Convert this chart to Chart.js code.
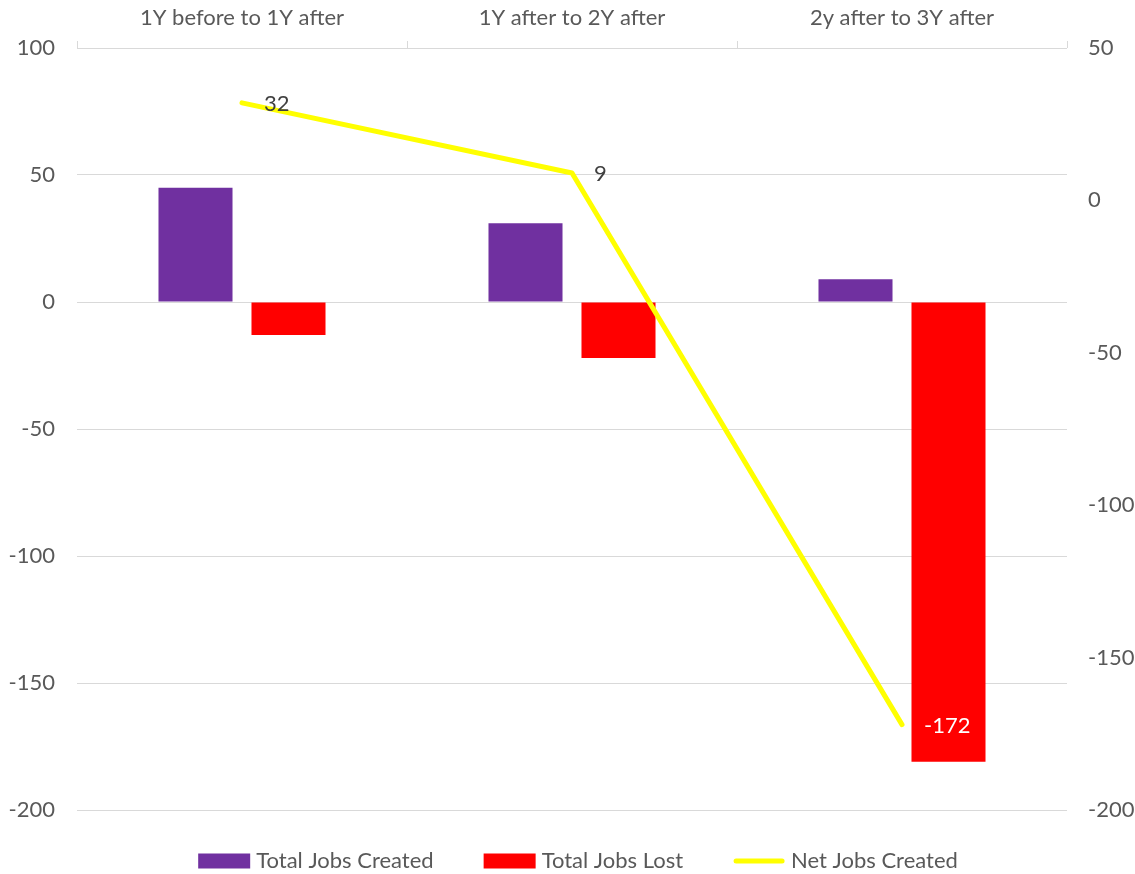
<!DOCTYPE html>
<html><head><meta charset="utf-8">
<script src="https://cdn.jsdelivr.net/npm/chart.js@4.4.1/dist/chart.umd.min.js"></script>
<style>html,body{margin:0;padding:0;background:#fff;}#wrap{width:1135px;height:874px;}</style>
</head><body><div id="wrap"><canvas id="c" width="1135" height="874"></canvas></div>
<script>
const categories = ['1Y before to 1Y after', '1Y after to 2Y after', '2y after to 3Y after'];
const jobsCreated = [45, 31, 9];
const jobsLost = [-13, -22, -181];
const netJobs = [32, 9, -172];
const leftTicks = [-200, -150, -100, -50, 0, 50, 100];
const rightTicks = [-200, -150, -100, -50, 0, 50];
const seriesNames = ['Total Jobs Created', 'Total Jobs Lost', 'Net Jobs Created'];
const seriesColors = ['#7030A0', '#FF0000', '#FFFF00'];

const FONT = 'Lato, "Liberation Sans", sans-serif';
const FS = 22;
const TXT = '#595959';

const lineLabels = {
  id: 'lineLabels',
  afterDatasetsDraw(chart) {
    const ctx = chart.ctx;
    const meta = chart.getDatasetMeta(2);
    ctx.save();
    ctx.font = FS + 'px ' + FONT;
    ctx.textAlign = 'left';
    ctx.textBaseline = 'middle';
    meta.data.forEach((pt, i) => {
      ctx.fillStyle = netJobs[i] < -100 ? '#FFFFFF' : '#404040';
      ctx.fillText(String(netJobs[i]), pt.x + 22, pt.y + 1);
    });
    ctx.restore();
  }
};

const customLegend = {
  id: 'customLegend',
  afterDraw(chart) {
    const ctx = chart.ctx;
    ctx.save();
    ctx.font = FS + 'px ' + FONT;
    ctx.textBaseline = 'middle';
    ctx.textAlign = 'left';
    const boxW = 52, boxH = 15, gap = 6, itemGap = 50, cy = 861;
    const widths = seriesNames.map(n => boxW + gap + ctx.measureText(n).width);
    const total = widths.reduce((a, b) => a + b, 0) + itemGap * (widths.length - 1);
    let x = 578 - total / 2;
    seriesNames.forEach((n, i) => {
      if (i < 2) {
        ctx.fillStyle = seriesColors[i];
        ctx.fillRect(x, cy - boxH / 2, boxW, boxH);
      } else {
        ctx.strokeStyle = seriesColors[i];
        ctx.lineWidth = 5;
        ctx.lineCap = 'round';
        ctx.beginPath();
        ctx.moveTo(x + 3, cy);
        ctx.lineTo(x + boxW - 3, cy);
        ctx.stroke();
      }
      ctx.fillStyle = TXT;
      ctx.fillText(n, x + boxW + gap, cy);
      x += widths[i] + itemGap;
    });
    ctx.restore();
  }
};

new Chart(document.getElementById('c'), {
  type: 'bar',
  data: {
    labels: categories,
    datasets: [
      { type: 'bar', label: seriesNames[0], data: jobsCreated, backgroundColor: seriesColors[0], yAxisID: 'y', order: 1,
        categoryPercentage: 0.5636, barPercentage: 0.796 },
      { type: 'bar', label: seriesNames[1], data: jobsLost, backgroundColor: seriesColors[1], yAxisID: 'y', order: 1,
        categoryPercentage: 0.5636, barPercentage: 0.796 },
      { type: 'line', label: seriesNames[2], data: netJobs, borderColor: seriesColors[2], backgroundColor: seriesColors[2],
        borderWidth: 5, pointRadius: 0, tension: 0, yAxisID: 'y1', order: 0, borderCapStyle: 'round', borderJoinStyle: 'round' }
    ]
  },
  options: {
    responsive: false,
    animation: false,
    devicePixelRatio: 1,
    layout: { padding: { left: 0, right: 0, top: 0, bottom: 64 } },
    plugins: { legend: { display: false }, tooltip: { enabled: false } },
    scales: {
      x: {
        position: 'top',
        offset: true,
        grid: { offset: true, drawOnChartArea: false, drawTicks: true, tickLength: 7, color: '#d9d9d9' },
        border: { display: false },
        ticks: { color: TXT, font: { family: FONT, size: FS }, padding: 10, maxRotation: 0 },
        afterFit(s) { s.height = 48; }
      },
      y: {
        position: 'left',
        min: Math.min(...leftTicks), max: Math.max(...leftTicks),
        ticks: { stepSize: 50, color: TXT, font: { family: FONT, size: FS }, padding: 22 },
        grid: { color: '#d9d9d9', drawTicks: false },
        border: { display: false },
        afterFit(s) { s.width = 77; }
      },
      y1: {
        position: 'right',
        min: Math.min(...rightTicks), max: Math.max(...rightTicks),
        ticks: { stepSize: 50, color: TXT, font: { family: FONT, size: FS }, padding: 21 },
        grid: { display: false, drawTicks: false },
        border: { display: false },
        afterFit(s) { s.width = 68; }
      }
    }
  },
  plugins: [lineLabels, customLegend]
});
</script></body></html>
